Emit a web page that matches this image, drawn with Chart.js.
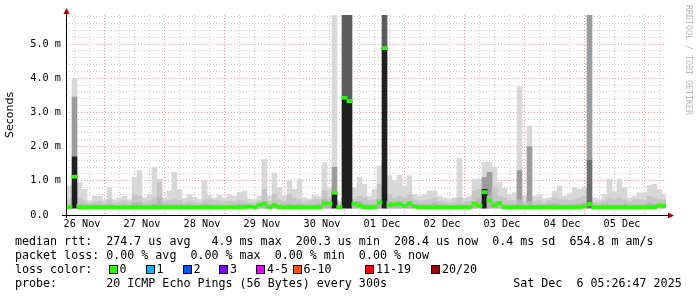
<!DOCTYPE html>
<html>
<head>
<meta charset="utf-8">
<script src="https://cdn.jsdelivr.net/npm/chart.js@4.4.1/dist/chart.umd.min.js"></script>
<style>
  body { margin: 0; background: #fff; }
  #wrap { position: relative; width: 697px; height: 297px; overflow: hidden; background: #fff; }
  #chart { position: absolute; left: 0; top: 0; }
  .txt { position: absolute; left: 15px; font: 11.66px 'DejaVu Sans Mono', monospace; line-height: 14px; white-space: pre; color: #000; }
  .box { position: absolute; top: 265px; width: 7px; height: 7px; border: 1px solid #000; }
  #brand { position: absolute; left: 684px; top: 5px; writing-mode: vertical-rl; font: 8.3px 'DejaVu Sans Mono', monospace; color: #b8b8b8; white-space: pre; }
</style>
</head>
<body>
<div id="wrap">
  <canvas id="chart" width="697" height="297"></canvas>
  <div id="brand">RRDTOOL / TOBI OETIKER</div>
  <div class="txt" style="top:234px">median rtt:  274.7 us avg   4.9 ms max  200.3 us min  208.4 us now  0.4 ms sd  654.8 m am/s</div>
  <div class="txt" style="top:248px">packet loss: 0.00 % avg  0.00 % max  0.00 % min  0.00 % now</div>
  <div class="txt" style="top:262px">loss color:</div>
  <div class="txt" style="top:276px">probe:       20 ICMP Echo Pings (56 Bytes) every 300s                  Sat Dec  6 05:26:47 2025</div>
</div>
<script>
// day labels under the x axis (one per day, at noon)
const dayLabels = ['26 Nov', '27 Nov', '28 Nov', '29 Nov', '30 Nov', '01 Dec', '02 Dec', '03 Dec', '04 Dec', '05 Dec'];

// loss colour legend
const lossLabels = ['0', '1', '2', '3', '4-5', '6-10', '11-19', '20/20'];
const lossColors = ['#2aff00', '#00b8ff', '#0059ff', '#7e00ff', '#e600ff', '#ff5500', '#ff0000', '#a10000'];

// 2 hour bins, first bin starts Nov 26 06:00 (hours counted from Nov 26 00:00)
const binStart = 6;
const binHours = 2;
const smokeFloor = 0.2; // ms, lowest ping

// smoke envelope (ms): light top, medium band top, dark band top, median
const smokeTop = [
  0.85, 4.00, 0.95, 0.75, 0.42, 0.55, 0.55, 0.45, 0.80, 0.45, 0.50, 0.55,
  0.45, 1.10, 1.30, 0.50, 0.60, 1.38, 1.05, 0.50, 0.70, 1.25, 0.75, 0.48,
  0.60, 0.52, 0.45, 1.00, 0.57, 0.50, 0.58, 0.50, 0.60, 0.55, 0.67, 0.70,
  0.47, 0.45, 0.55, 1.62, 0.55, 1.22, 0.80, 0.55, 1.00, 0.75, 1.05, 0.50,
  0.47, 0.57, 0.55, 1.53, 0.80, 5.85, 0.42, 5.85, 5.85, 0.80, 1.10, 0.90,
  0.55, 0.75, 1.43, 5.85, 1.15, 1.00, 1.16, 0.85, 1.15, 0.60, 0.55, 0.60,
  0.70, 0.70, 0.55, 0.50, 0.45, 0.50, 1.65, 0.50, 0.55, 1.05, 1.05, 1.55,
  1.55, 1.40, 0.95, 0.78, 0.60, 0.65, 3.75, 0.55, 2.60, 0.55, 0.60, 0.48,
  0.50, 0.70, 0.85, 0.55, 0.62, 0.80, 0.75, 0.80, 5.85, 0.50, 0.45, 0.60,
  1.05, 0.70, 1.05, 0.80, 0.50, 0.55, 0.65, 0.65, 0.86, 0.90, 0.75, 0.60
];
const smokeMid = [
  0.45, 3.45, 0.50, 0.42, 0.34, 0.38, 0.40, 0.36, 0.45, 0.35, 0.38, 0.40,
  0.36, 0.60, 0.55, 0.38, 0.40, 0.50, 0.95, 0.40, 0.42, 0.45, 0.42, 0.36,
  0.40, 0.38, 0.36, 0.45, 0.45, 0.42, 0.40, 0.38, 0.40, 0.38, 0.42, 0.42,
  0.36, 0.36, 0.42, 0.75, 0.40, 0.60, 0.45, 0.40, 0.60, 0.50, 0.45, 0.38,
  0.40, 0.45, 0.45, 0.70, 0.50, 1.40, 0.35, 5.85, 5.85, 0.45, 0.55, 0.50,
  0.42, 0.45, 0.90, 5.85, 0.60, 0.50, 0.55, 0.50, 0.60, 0.45, 0.42, 0.42,
  0.45, 0.50, 0.40, 0.38, 0.36, 0.38, 0.50, 0.38, 0.40, 0.70, 0.75, 1.10,
  1.25, 0.80, 0.55, 0.50, 0.42, 0.42, 1.30, 0.40, 2.00, 0.40, 0.42, 0.36,
  0.42, 0.50, 0.45, 0.45, 0.42, 0.45, 0.50, 0.55, 5.85, 0.38, 0.36, 0.40,
  0.50, 0.45, 0.50, 0.45, 0.38, 0.45, 0.45, 0.42, 0.55, 0.50, 0.45, 0.45
];
const smokeDark = [
  0.30, 1.70, 0.32, 0.30, 0.28, 0.29, 0.29, 0.28, 0.30, 0.28, 0.28, 0.29,
  0.28, 0.35, 0.35, 0.28, 0.29, 0.32, 0.50, 0.29, 0.30, 0.30, 0.30, 0.28,
  0.29, 0.28, 0.28, 0.30, 0.30, 0.29, 0.29, 0.28, 0.29, 0.28, 0.30, 0.30,
  0.28, 0.28, 0.34, 0.40, 0.30, 0.35, 0.30, 0.29, 0.32, 0.30, 0.30, 0.28,
  0.29, 0.30, 0.32, 0.45, 0.38, 0.65, 0.28, 3.43, 3.33, 0.36, 0.40, 0.32,
  0.30, 0.30, 0.45, 4.88, 0.40, 0.36, 0.40, 0.32, 0.40, 0.32, 0.30, 0.30,
  0.30, 0.35, 0.30, 0.28, 0.28, 0.28, 0.30, 0.28, 0.29, 0.40, 0.45, 0.75,
  0.55, 0.40, 0.38, 0.30, 0.30, 0.30, 0.45, 0.29, 0.40, 0.29, 0.30, 0.28,
  0.32, 0.33, 0.30, 0.30, 0.30, 0.30, 0.32, 0.35, 1.60, 0.28, 0.28, 0.29,
  0.30, 0.30, 0.30, 0.30, 0.28, 0.30, 0.30, 0.30, 0.35, 0.32, 0.32, 0.32
];
const medianRtt = [
  0.23, 1.12, 0.23, 0.22, 0.23, 0.23, 0.23, 0.23, 0.23, 0.23, 0.23, 0.23,
  0.23, 0.23, 0.23, 0.23, 0.23, 0.23, 0.23, 0.23, 0.23, 0.23, 0.23, 0.23,
  0.23, 0.23, 0.23, 0.23, 0.23, 0.23, 0.23, 0.23, 0.23, 0.23, 0.23, 0.23,
  0.25, 0.23, 0.30, 0.32, 0.23, 0.28, 0.23, 0.23, 0.23, 0.23, 0.23, 0.23,
  0.23, 0.23, 0.23, 0.33, 0.33, 0.65, 0.23, 3.43, 3.33, 0.33, 0.28, 0.23,
  0.23, 0.23, 0.37, 4.88, 0.30, 0.31, 0.32, 0.27, 0.33, 0.25, 0.23, 0.23,
  0.23, 0.23, 0.23, 0.23, 0.23, 0.23, 0.23, 0.23, 0.22, 0.33, 0.27, 0.67,
  0.42, 0.28, 0.35, 0.23, 0.23, 0.23, 0.23, 0.23, 0.23, 0.23, 0.23, 0.23,
  0.23, 0.22, 0.23, 0.23, 0.23, 0.23, 0.23, 0.25, 0.32, 0.23, 0.23, 0.23,
  0.23, 0.23, 0.23, 0.23, 0.23, 0.23, 0.23, 0.23, 0.23, 0.23, 0.28, 0.26
];

// axis range: Nov 26 05:36 .. Dec 6 05:36, 0 .. 5.85 ms
const xMin = 5.6, xMax = 245.6;
const yMax = 5.85;

const binCenter = (i) => binStart + binHours * i + binHours / 2;
const band = (lo, hi) => hi.map((v, i) => ({ x: binCenter(i), y: [Array.isArray(lo) ? lo[i] : lo, v] }));

const xTicks = [];
for (let h = 6; h <= 240; h += 6) xTicks.push(h);
const yTicks = [];
for (let k = 0; k <= 29; k++) yTicks.push(k / 5);

const isWhole = (v) => Math.abs(v - Math.round(v)) < 1e-6;

const majorGrid = 'rgba(240,60,60,0.55)';
const minorGrid = 'rgba(170,170,170,0.6)';

// legend boxes for loss colours
const boxLeft = [108.5, 145.5, 182.5, 219, 256, 292.5, 365, 431];
const wrap = document.getElementById('wrap');
lossLabels.forEach((label, i) => {
  const box = document.createElement('div');
  box.className = 'box';
  box.style.left = boxLeft[i] + 'px';
  box.style.background = lossColors[i];
  wrap.appendChild(box);
  const txt = document.createElement('div');
  txt.className = 'txt';
  txt.style.top = '262px';
  txt.style.left = (boxLeft[i] + 11) + 'px';
  txt.textContent = label;
  wrap.appendChild(txt);
});

// axis lines with small arrow heads, rrdtool style
const axisArrows = {
  id: 'axisArrows',
  afterDraw(chart) {
    const { ctx, chartArea: a } = chart;
    const y0 = Math.round(a.bottom) + 0.5;
    const x0 = Math.round(a.left) + 0.5;
    ctx.save();
    ctx.strokeStyle = '#000';
    ctx.lineWidth = 1;
    ctx.beginPath();
    ctx.moveTo(a.left - 4, y0); ctx.lineTo(a.right + 3, y0);
    ctx.moveTo(x0, a.bottom + 3); ctx.lineTo(x0, a.top - 1);
    ctx.stroke();
    ctx.fillStyle = '#a00000';
    ctx.beginPath();
    ctx.moveTo(x0 - 3, a.top - 1); ctx.lineTo(x0 + 3, a.top - 1); ctx.lineTo(x0, a.top - 7);
    ctx.closePath(); ctx.fill();
    ctx.beginPath();
    ctx.moveTo(a.right + 2, y0 - 3); ctx.lineTo(a.right + 2, y0 + 3); ctx.lineTo(a.right + 8, y0);
    ctx.closePath(); ctx.fill();
    ctx.restore();
  }
};

const tickFont = { family: 'DejaVu Sans Mono', size: 10.2 };

new Chart(document.getElementById('chart'), {
  type: 'bar',
  data: {
    datasets: [
      {
        label: 'median',
        data: medianRtt.map((m, i) => ({ x: binCenter(i), y: [m - 0.045, m + 0.045] })),
        backgroundColor: '#2aff00',
      },
      {
        label: 'smoke dark',
        data: band(smokeFloor, smokeDark),
        backgroundColor: (ctx) => {
          const m = medianRtt[ctx.dataIndex];
          if (m > 0.5) return '#1e1e1e';
          if (smokeDark[ctx.dataIndex] > 1) return '#6e6e6e';
          return '#b4b4b4';
        },
      },
      {
        label: 'smoke mid',
        data: band(smokeDark, smokeMid),
        backgroundColor: (ctx) => {
          if (medianRtt[ctx.dataIndex] > 3) return '#5c5c5c';
          if (smokeMid[ctx.dataIndex] > 1) return '#9c9c9c';
          return '#c6c6c6';
        },
      },
      {
        label: 'smoke top',
        data: band(smokeMid, smokeTop),
        backgroundColor: '#d8d8d8',
      },
    ],
  },
  options: {
    responsive: false,
    animation: false,
    layout: { padding: { top: 15, right: 31, bottom: 0, left: 0 } },
    datasets: {
      bar: { grouped: false, barThickness: 5, borderWidth: 0, borderSkipped: false },
    },
    plugins: {
      legend: { display: false },
      tooltip: { enabled: false },
    },
    scales: {
      x: {
        type: 'linear',
        min: xMin,
        max: xMax,
        offset: false,
        afterFit: (s) => { s.height = 82; },
        afterBuildTicks: (s) => { s.ticks = xTicks.map((v) => ({ value: v })); },
        grid: {
          drawTicks: false,
          color: (ctx) => (ctx.tick && ctx.tick.value % 24 === 0 ? majorGrid : minorGrid),
        },
        border: { display: false, dash: [1, 2] },
        ticks: {
          autoSkip: false,
          maxRotation: 0,
          minRotation: 0,
          padding: 3,
          color: '#000',
          font: tickFont,
          callback: (v) => (v % 24 === 12 ? dayLabels[(v - 12) / 24] : ''),
        },
      },
      y: {
        min: 0,
        max: yMax,
        afterFit: (s) => { s.width = 66; },
        afterBuildTicks: (s) => { s.ticks = yTicks.map((v) => ({ value: v })); },
        grid: {
          drawTicks: false,
          color: (ctx) => (ctx.tick && isWhole(ctx.tick.value) ? majorGrid : minorGrid),
        },
        border: { display: false, dash: [1, 2] },
        ticks: {
          autoSkip: false,
          padding: 5,
          color: '#000',
          font: tickFont,
          callback: (v) => {
            if (!isWhole(v)) return '';
            return v === 0 ? '0.0  ' : Math.round(v).toFixed(1) + ' m';
          },
        },
        title: {
          display: true,
          text: 'Seconds',
          color: '#000',
          font: { family: 'DejaVu Sans', size: 11 },
          padding: { top: 4, bottom: 0 },
        },
      },
    },
  },
  plugins: [axisArrows],
});
</script>
</body>
</html>
